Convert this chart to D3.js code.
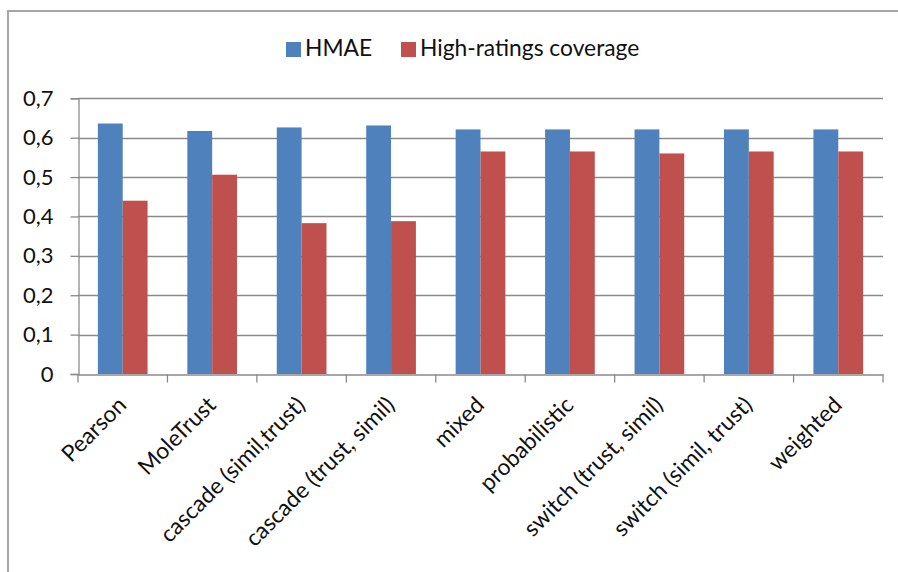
<!DOCTYPE html>
<html><head><meta charset="utf-8">
<script src="https://cdn.jsdelivr.net/npm/d3@7"></script>
<style>body{margin:0;background:#fff;} svg{display:block;}</style>
</head><body>
<script>
const categories = ["Pearson","MoleTrust","cascade (simil,trust)","cascade (trust, simil)","mixed","probabilistic","switch (trust, simil)","switch (simil, trust)","weighted"];
const seriesNames = ["HMAE","High-ratings coverage"];
const hmae = [0.636,0.617,0.626,0.631,0.621,0.621,0.621,0.621,0.621];
const coverage = [0.440,0.506,0.383,0.388,0.565,0.565,0.560,0.565,0.565];
const yTicks = [0,0.1,0.2,0.3,0.4,0.5,0.6,0.7];
const colors = ["#4F81BD","#C0504D"];

(function(){
const W=898,H=572;
const svg=d3.select("body").append("svg").attr("width",W).attr("height",H);
const font="Lato, 'Open Sans', sans-serif";
const fs=22.8;
svg.append("rect").attr("x",8).attr("y",11).attr("width",W+10).attr("height",H+10)
  .attr("fill","none").attr("stroke","#a6a6a6").attr("stroke-width",2);

const pLeft=78,pRight=883,pTop=98.3,pBottom=374;
const x=d3.scaleBand().domain(categories).range([pLeft,pRight]);
const y=d3.scaleLinear().domain([0,0.7]).range([pBottom,pTop]);
const inner=d3.scaleBand().domain(seriesNames).range([0,x.bandwidth()]).paddingOuter(0.8).paddingInner(0);

// gridlines
svg.append("g").selectAll("line").data(yTicks.filter(d=>d>0)).join("line")
  .attr("x1",pLeft).attr("x2",pRight).attr("y1",d=>Math.round(y(d))+0.5).attr("y2",d=>Math.round(y(d))+0.5)
  .attr("stroke","#8a8a8a").attr("stroke-width",1.3);

// bars
const data=[hmae,coverage];
data.forEach((vals,si)=>{
  svg.append("g").selectAll("rect").data(categories).join("rect")
    .attr("x",(c)=>x(c)+inner(seriesNames[si]))
    .attr("width",inner.bandwidth())
    .attr("y",(c,i)=>y(vals[i]))
    .attr("height",(c,i)=>y(0)-y(vals[i]))
    .attr("fill",colors[si]);
});

// y axis
const yAxis=d3.axisLeft(y).tickValues(yTicks).tickSize(8).tickPadding(17)
  .tickFormat(d=>d===0?"0":d3.format(".1f")(d).replace(".",","));
const gy=svg.append("g").attr("transform",`translate(${pLeft+0.5},0)`).call(yAxis);
gy.select(".domain").attr("stroke","#8a8a8a").attr("stroke-width",1.3);
gy.selectAll(".tick line").attr("stroke","#8a8a8a").attr("stroke-width",1.3);
gy.selectAll(".tick text").attr("font-family",font).attr("font-size",22).attr("fill","#111");

// x axis
const xAxis=d3.axisBottom(x).tickSize(0).tickFormat("");
const gx=svg.append("g").attr("transform",`translate(0,${Math.round(pBottom)+0.5})`).call(xAxis);
gx.select(".domain").attr("stroke","#8a8a8a").attr("stroke-width",1.3);
const bounds=d3.range(categories.length+1).map(i=>pLeft+i*x.step());
gx.selectAll(".bt").data(bounds).join("line").attr("class","bt")
  .attr("x1",d=>d).attr("x2",d=>d).attr("y1",0).attr("y2",8)
  .attr("stroke","#8a8a8a").attr("stroke-width",1.3);
gx.selectAll(".lbl").data(categories).join("text").attr("class","lbl")
  .attr("transform",d=>`translate(${x(d)+x.bandwidth()/2+5},${32}) rotate(-45)`)
  .attr("text-anchor","end").attr("font-family",font).attr("font-size",fs).attr("fill","#111")
  .text(d=>d);

// legend
const lg=svg.append("g");
const items=[{n:seriesNames[0],x:286,c:colors[0]},{n:seriesNames[1],x:401,c:colors[1]}];
items.forEach(it=>{
  lg.append("rect").attr("x",it.x).attr("y",42).attr("width",15).attr("height",15).attr("fill",it.c);
  lg.append("text").attr("x",it.x+19).attr("y",56).attr("font-family",font).attr("font-size",fs)
    .attr("fill","#111").text(it.n);
});
})();
</script>
</body></html>
